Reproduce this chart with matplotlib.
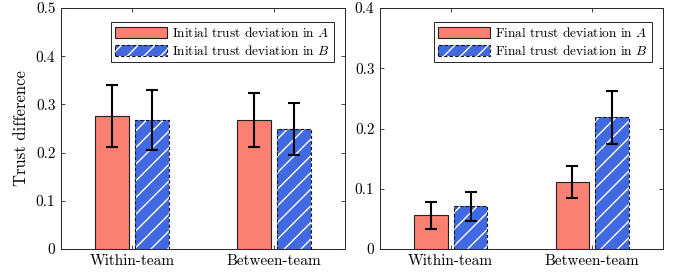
import numpy as np
import matplotlib
matplotlib.use('Agg')
import matplotlib.pyplot as plt
from matplotlib.patches import Patch
from matplotlib.legend_handler import HandlerTuple

plt.rcParams['font.family'] = ['cmr10', 'DejaVu Serif']
plt.rcParams['mathtext.fontset'] = 'cm'
plt.rcParams['axes.formatter.use_mathtext'] = True
plt.rcParams['axes.unicode_minus'] = False
plt.rcParams['hatch.linewidth'] = 1.0

categories = ['Within-team', 'Between-team']

# left panel: initial trust deviation
init_a = [0.275, 0.267]
init_a_err_lo = [0.211, 0.211]
init_a_err_hi = [0.340, 0.323]
init_b = [0.268, 0.249]
init_b_err_lo = [0.206, 0.195]
init_b_err_hi = [0.329, 0.303]

# right panel: final trust deviation
final_a = [0.056, 0.111]
final_a_err_lo = [0.034, 0.085]
final_a_err_hi = [0.078, 0.137]
final_b = [0.071, 0.219]
final_b_err_lo = [0.047, 0.175]
final_b_err_hi = [0.095, 0.263]

red = '#FA8072'
blue = '#4169E1'
spine_col = '#262626'

fig = plt.figure(figsize=(6.81, 2.76), dpi=100)
W, H = 681, 276
ax1 = fig.add_axes([61 / W, 1 - 249 / H, (345 - 61) / W, (249 - 8) / H])
ax2 = fig.add_axes([380 / W, 1 - 249 / H, (663 - 380) / W, (249 - 8) / H])


def draw(ax, a, a_lo, a_hi, b, b_lo, b_hi, ymax, name):
    x = np.arange(1, len(categories) + 1)
    off, w = 0.14, 0.235
    ax.bar(x - off, a, w, color=red, edgecolor='#222222', linewidth=0.8, zorder=2)
    ax.bar(x + off, b, w, color=blue, edgecolor='white', hatch='//', linewidth=0, zorder=2)
    ax.bar(x + off, b, w, color='none', edgecolor='#111111', linewidth=0.8,
           linestyle=(0, (3, 2)), zorder=3)
    a, b = np.array(a), np.array(b)
    ax.errorbar(x - off, a, yerr=[a - np.array(a_lo), np.array(a_hi) - a], fmt='none',
                ecolor='black', elinewidth=1.5, capsize=4, capthick=1.5, zorder=4)
    ax.errorbar(x + off, b, yerr=[b - np.array(b_lo), np.array(b_hi) - b], fmt='none',
                ecolor='black', elinewidth=1.5, capsize=4, capthick=1.5, zorder=4)
    ax.set_xlim(0.5, 2.5)
    ax.set_ylim(0, ymax)
    ax.set_xticks(x)
    ax.set_xticklabels(categories)
    ax.set_yticks(np.arange(0, ymax + 1e-9, 0.1))
    ax.set_yticklabels(['0'] + [f'{v:.1f}' for v in np.arange(0.1, ymax + 1e-9, 0.1)])
    ax.tick_params(direction='in', top=True, right=True, length=3, width=0.6,
                   color=spine_col, labelsize=11, pad=4)
    for s in ax.spines.values():
        s.set_color(spine_col)
        s.set_linewidth(0.7)
    ha = Patch(facecolor=red, edgecolor='#222222', linewidth=0.8)
    hb1 = Patch(facecolor=blue, edgecolor='white', hatch='//', linewidth=0)
    hb2 = Patch(facecolor='none', edgecolor='#111111', linewidth=0.8, linestyle=(0, (3, 2)))
    leg = ax.legend([ha, (hb1, hb2)],
                    [f'{name} trust deviation in $A$', f'{name} trust deviation in $B$'],
                    handler_map={tuple: HandlerTuple(ndivide=1, pad=0)},
                    loc='upper right', bbox_to_anchor=(0.96, 0.942), fontsize=9.6,
                    fancybox=False, framealpha=1, edgecolor='#262626',
                    handlelength=3.9, handleheight=0.85, handletextpad=0.4,
                    borderpad=0.3, labelspacing=0.3, borderaxespad=0)
    leg.get_frame().set_linewidth(0.7)


draw(ax1, init_a, init_a_err_lo, init_a_err_hi, init_b, init_b_err_lo, init_b_err_hi, 0.5, 'Initial')
draw(ax2, final_a, final_a_err_lo, final_a_err_hi, final_b, final_b_err_lo, final_b_err_hi, 0.4, 'Final')
ax1.set_ylabel('Trust difference', fontsize=12, labelpad=5)

fig.savefig('out.png', dpi=100)
